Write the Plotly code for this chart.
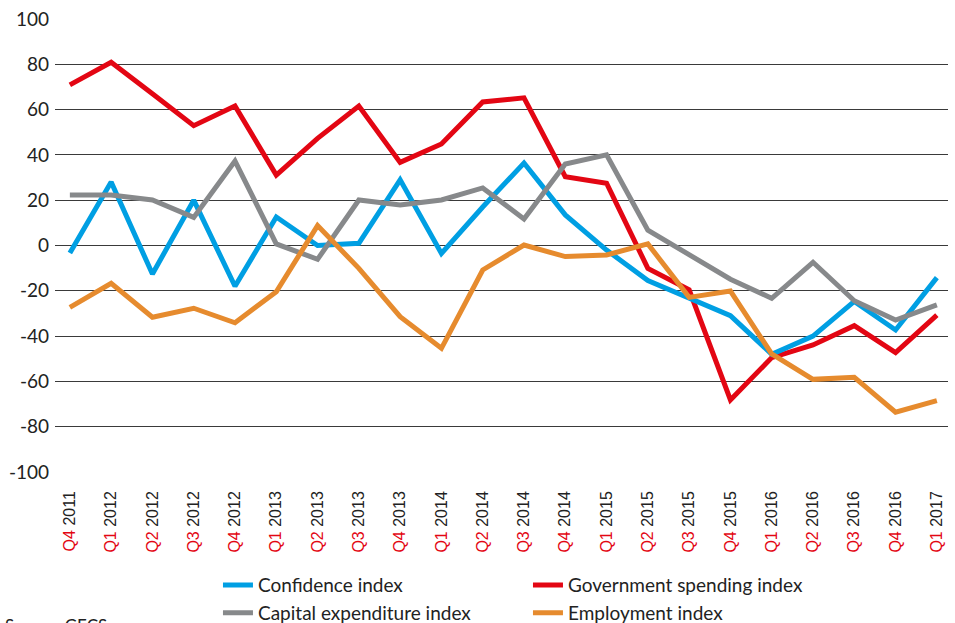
import plotly.graph_objects as go

quarters = ["Q4", "Q1", "Q2", "Q3", "Q4", "Q1", "Q2", "Q3", "Q4", "Q1", "Q2",
            "Q3", "Q4", "Q1", "Q2", "Q3", "Q4", "Q1", "Q2", "Q3", "Q4", "Q1"]
years = ["2011", "2012", "2012", "2012", "2012", "2013", "2013", "2013", "2013", "2014", "2014",
         "2014", "2014", "2015", "2015", "2015", "2015", "2016", "2016", "2016", "2016", "2017"]

confidence = [-3.3, 28, -12.6, 20, -18, 12.6, 0, 1, 29, -3.5, 17,
              36.4, 13.5, -2, -15.5, -23, -31, -48, -40, -24.7, -37.3, -14.2]
government = [70.9, 80.9, 67, 52.9, 61.6, 31.1, 47.3, 61.6, 36.7, 44.8, 63.4,
              65.2, 30.4, 27.5, -10.1, -19.6, -68.2, -49.5, -43.9, -35.4, -47.3, -30.7]
capex = [22.3, 22.3, 20.1, 12.4, 37.3, 0.7, -6.1, 20.1, 17.9, 20.1, 25.4,
         11.7, 36, 40, 6.8, -4.2, -14.9, -23.3, -7.4, -24.4, -32.9, -26.2]
employment = [-27.3, -16.7, -31.7, -27.7, -34.1, -20.4, 8.8, -10.1, -31.4, -45.4, -10.8,
              0.2, -4.9, -4.2, 0.7, -22.9, -20.1, -47.9, -59.1, -58.2, -73.6, -68.5]

y_ticks = [100, 80, 60, 40, 20, 0, -20, -40, -60, -80, -100]
y_tick_labels = ["100", "80", "60", "40", "20", "0", "-20", "-40", "-60", "-80", "-100"]

n = len(years)
categories = [f"{q} {y}" for q, y in zip(quarters, years)]
tick_text = [f"<span style='color:#E30613'>{q}</span> {y}" for q, y in zip(quarters, years)]

series = [
    ("Confidence index", confidence, "#009FE3", 2),
    ("Government spending index", government, "#E30613", 1),
    ("Capital expenditure index", capex, "#87898B", 3),
    ("Employment index", employment, "#E68B2E", 4),
]
legend_rank = {"Confidence index": 1, "Government spending index": 2,
               "Capital expenditure index": 3, "Employment index": 4}

fig = go.Figure()
for name, vals, color, z in sorted(series, key=lambda s: s[3]):
    fig.add_trace(go.Scatter(
        x=categories, y=vals, mode="lines", name=name,
        line=dict(color=color, width=5), legendrank=legend_rank[name],
    ))

fig.update_layout(
    width=955, height=623,
    margin=dict(l=55, r=7, t=19, b=151, autoexpand=False),
    plot_bgcolor="white", paper_bgcolor="white",
    font=dict(family="Lato, sans-serif", size=16, color="#222"),
    xaxis=dict(
        type="category", tickmode="array", tickvals=categories, ticktext=tick_text,
        tickangle=-90, showgrid=False, zeroline=False, showline=False,
        range=[-0.36, n - 1 + 0.27], automargin=False,
        tickfont=dict(family="Liberation Sans Narrow, Liberation Sans, Arial, sans-serif",
                      size=16, color="#222"),
        ticks="", ticklabelstandoff=15,
    ),
    yaxis=dict(
        range=[-100, 100], tickmode="array", tickvals=y_ticks, ticktext=y_tick_labels,
        showgrid=True, gridcolor="#3a3a3a", automargin=False,
        gridwidth=1, zeroline=False, showline=False, ticks="",
        tickfont=dict(family="Lato, sans-serif", size=19, color="#222"),
        ticklabelstandoff=5,
    ),
    legend=dict(
        orientation="h", x=0.1825, xanchor="left", y=-0.208, yanchor="top",
        entrywidth=265, entrywidthmode="pixels",
        font=dict(family="Lato, sans-serif", size=19, color="#222"),
        bgcolor="rgba(0,0,0,0)",
    ),
    showlegend=True,
)

fig.add_annotation(
    text="Source: GECS", xref="paper", yref="paper", x=-0.058, xanchor="left",
    y=-0.311, yanchor="top", showarrow=False,
    font=dict(family="Lato, sans-serif", size=17, color="#222"),
)

fig.write_html("out.html", config={"displayModeBar": False},
               post_script="document.body.style.margin='0';")
